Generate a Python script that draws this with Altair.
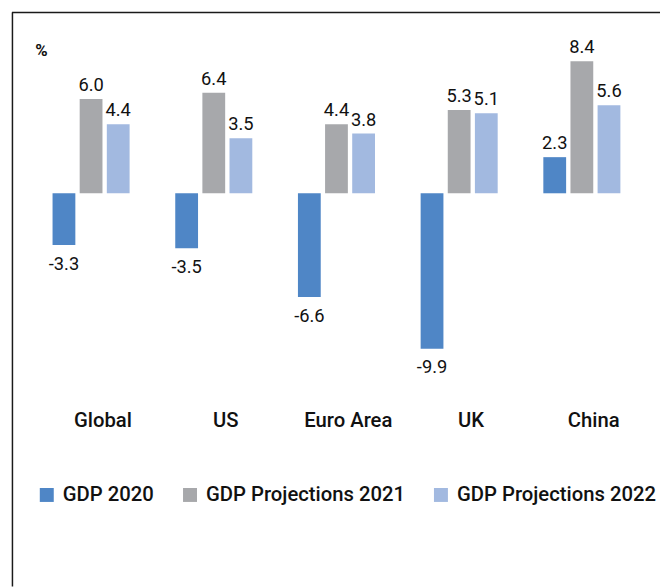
import altair as alt
import pandas as pd

regions = ["Global", "US", "Euro Area", "UK", "China"]
series = ["GDP 2020", "GDP Projections 2021", "GDP Projections 2022"]
gdp_2020 = [-3.3, -3.5, -6.6, -9.9, 2.3]
gdp_2021 = [6.0, 6.4, 4.4, 5.3, 8.4]
gdp_2022 = [4.4, 3.5, 3.8, 5.1, 5.6]
colors = ["#4F86C6", "#A7A8AB", "#A2B9E0"]

rows = []
for s, vals in zip(series, [gdp_2020, gdp_2021, gdp_2022]):
    for r, v in zip(regions, vals):
        rows.append({"region": r, "series": s, "value": v, "label": f"{v:.1f}"})
df = pd.DataFrame(rows)
reg_df = pd.DataFrame({"region": regions})
one = pd.DataFrame({"k": [0]})

FONT = "Roboto"

x = alt.X("region:N", sort=regions,
          scale=alt.Scale(range=[22, 643], paddingInner=0.372, paddingOuter=0.186),
          axis=None)
xo = alt.XOffset("series:N", sort=series,
                 scale=alt.Scale(paddingInner=0.16, paddingOuter=0))
y = alt.Y("value:Q", scale=alt.Scale(domain=[-10, 10], range=[341, 23]),
          axis=alt.Axis(title="%", labels=False, ticks=False, domain=False, grid=False,
                        titleAngle=0, titleX=27, titleY=38, titleAlign="left",
                        titleBaseline="middle", titleFontSize=17, titleFontWeight="bold",
                        titleFont=FONT, titleColor="#111"))

base = alt.Chart(df)

bars = base.mark_bar().encode(
    x=x, xOffset=xo, y=y, y2=alt.datum(0),
    color=alt.Color("series:N", sort=series,
                    scale=alt.Scale(domain=series, range=colors),
                    legend=alt.Legend(orient="none", legendX=29, legendY=477,
                                      direction="horizontal", title=None,
                                      symbolType="square", symbolSize=200,
                                      symbolStrokeWidth=0, labelFontSize=20.5,
                                      labelFont=FONT, labelFontWeight=500,
                                      labelColor="#111", columnPadding=26,
                                      labelOffset=6, labelLimit=0)),
)

pos_labels = base.transform_filter("datum.value >= 0").mark_text(
    baseline="bottom", dy=-4, fontSize=18.5, font=FONT, color="#111"
).encode(x=x, xOffset=xo, y=y, text="label:N")

neg_labels = base.transform_filter("datum.value < 0").mark_text(
    baseline="top", dy=10, fontSize=18.5, font=FONT, color="#111"
).encode(x=x, xOffset=xo, y=y, text="label:N")

cat_labels = alt.Chart(reg_df).mark_text(
    baseline="middle", fontSize=20.5, font=FONT, fontWeight=500, color="#111", dx=12
).encode(x=x, y=alt.value(413), text="region:N")

left_rule = alt.Chart(one).mark_rule(color="#1a1a1a", strokeWidth=1.5).encode(
    x=alt.value(4.5), y=alt.value(-1), y2=alt.value(580))
top_rule = alt.Chart(one).mark_rule(color="#1a1a1a", strokeWidth=1.5).encode(
    x=alt.value(4), x2=alt.value(662), y=alt.value(-1))

chart = alt.layer(bars, pos_labels, neg_labels, cat_labels, left_rule, top_rule).properties(
    width=660, height=578,
    autosize=alt.AutoSizeParams(type="none"),
    padding={"left": 0, "top": 2, "right": 0, "bottom": 0},
    background="white",
).configure_view(strokeWidth=0)

chart.save("out.html", embed_options={"renderer": "svg", "actions": False})
